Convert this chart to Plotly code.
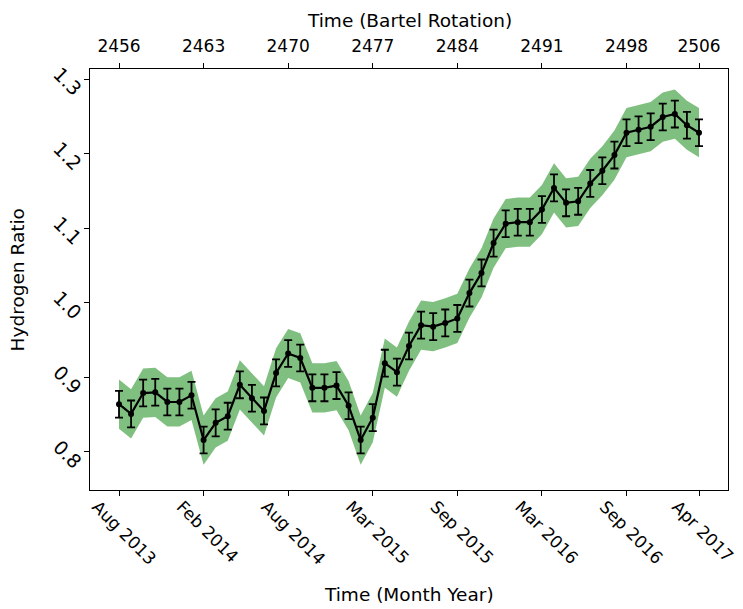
import plotly.graph_objects as go

# Hydrogen ratio per Bartel rotation sample (index = sample number)
hydrogen_ratio = [
    0.864, 0.851, 0.879, 0.880, 0.867, 0.867, 0.876, 0.816, 0.839, 0.848,
    0.890, 0.872, 0.855, 0.906, 0.932, 0.926, 0.886, 0.886, 0.889, 0.862,
    0.816, 0.846, 0.919, 0.907, 0.942, 0.970, 0.968, 0.973, 0.979, 1.013,
    1.040, 1.080, 1.106, 1.108, 1.108, 1.125, 1.154, 1.134, 1.136, 1.160,
    1.177, 1.198, 1.228, 1.232, 1.236, 1.249, 1.253, 1.238, 1.228,
]
error_bar = 0.018      # per-point uncertainty
band_width = 0.033     # shaded envelope half-width

tick_index = [0, 7, 14, 21, 28, 35, 42, 48]
bartel_labels = ["2456", "2463", "2470", "2477", "2484", "2491", "2498", "2506"]
month_labels = ["Aug 2013", "Feb 2014", "Aug 2014", "Mar 2015",
                "Sep 2015", "Mar 2016", "Sep 2016", "Apr 2017"]
ratio_ticks = [0.8, 0.9, 1.0, 1.1, 1.2, 1.3]

sample = list(range(len(hydrogen_ratio)))
upper = [v + band_width for v in hydrogen_ratio]
lower = [v - band_width for v in hydrogen_ratio]

FONT = "DejaVu Sans"
TICK_FS = 17
TITLE_FS = 18.5
BAND = "rgba(0,128,0,0.5)"

fig = go.Figure()

fig.add_trace(go.Scatter(x=sample, y=upper, mode="lines",
                         line=dict(width=0, color=BAND),
                         showlegend=False, hoverinfo="skip"))
fig.add_trace(go.Scatter(x=sample, y=lower, mode="lines", fill="tonexty",
                         fillcolor=BAND, line=dict(width=0, color=BAND),
                         showlegend=False, hoverinfo="skip"))
fig.add_trace(go.Scatter(
    x=sample, y=hydrogen_ratio, mode="lines+markers",
    line=dict(color="black", width=2.2),
    marker=dict(color="black", size=6),
    error_y=dict(type="constant", value=error_bar, color="black",
                 thickness=1.8, width=4),
    showlegend=False,
))
# invisible trace that carries the Bartel-rotation axis on top
fig.add_trace(go.Scatter(x=sample, y=hydrogen_ratio, xaxis="x2", mode="markers",
                         marker=dict(opacity=0), showlegend=False,
                         hoverinfo="skip"))

xrange = [-2.4, 50.4]
axis_common = dict(showgrid=False, zeroline=False, ticks="outside",
                   ticklen=5, tickwidth=1, tickcolor="black",
                   linecolor="black", linewidth=1.2,
                   ticklabeloverflow="allow", automargin=False)

fig.update_layout(
    width=743, height=609,
    margin=dict(l=90, r=15, t=69, b=119),
    plot_bgcolor="white", paper_bgcolor="white",
    font=dict(family=FONT, size=TICK_FS, color="black"),
    xaxis=dict(range=xrange, tickvals=tick_index, ticktext=month_labels,
               tickangle=45, showline=True, mirror=True,
               ticklabelshift=-22, ticklabelstandoff=-6,
               tickfont=dict(family=FONT, size=TICK_FS, color="black"),
               **axis_common),
    xaxis2=dict(range=xrange, overlaying="x", side="top",
                tickvals=tick_index, ticktext=bartel_labels, tickangle=0,
                showline=True, ticklabelstandoff=4,
                tickfont=dict(family=FONT, size=TICK_FS, color="black"),
                **axis_common),
    yaxis=dict(range=[0.749, 1.3134], tickvals=ratio_ticks,
               ticktext=[f"{t:.1f}" for t in ratio_ticks],
               tickangle=45, showline=True, mirror=True,
               ticklabelshift=14,
               tickfont=dict(family=FONT, size=19, color="black"),
               **axis_common),
    annotations=[
        dict(text="Time (Month Year)", xref="paper", yref="paper",
             x=0.5, y=-0.249, showarrow=False, yanchor="middle",
             font=dict(family=FONT, size=TITLE_FS, color="black")),
        dict(text="Time (Bartel Rotation)", xref="paper", yref="paper",
             x=0.5, y=1.116, showarrow=False, yanchor="middle",
             font=dict(family=FONT, size=TITLE_FS, color="black")),
        dict(text="Hydrogen Ratio", xref="paper", yref="paper",
             x=-0.113, y=0.5, showarrow=False, textangle=-90,
             xanchor="center", yanchor="middle",
             font=dict(family=FONT, size=TITLE_FS, color="black")),
    ],
)

fig.write_html("out.html")
